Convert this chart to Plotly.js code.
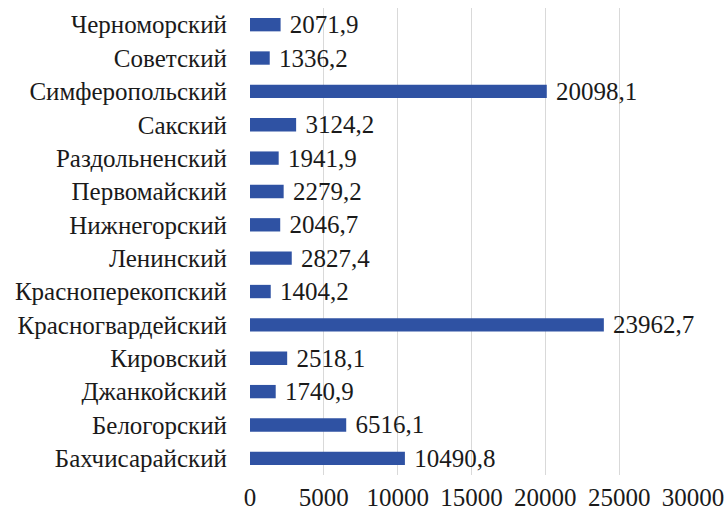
<!DOCTYPE html>
<html>
<head>
<meta charset="utf-8">
<script src="https://cdn.plot.ly/plotly-3.0.1.min.js"></script>
<style>html,body{margin:0;padding:0;background:#fff;}#chart{width:728px;height:512px;}</style>
</head>
<body>
<div id="chart"></div>
<script>
const districts = ["Бахчисарайский","Белогорский","Джанкойский","Кировский","Красногвардейский","Красноперекопский","Ленинский","Нижнегорский","Первомайский","Раздольненский","Сакский","Симферопольский","Советский","Черноморский"];
const values = [10490.8, 6516.1, 1740.9, 2518.1, 23962.7, 1404.2, 2827.4, 2046.7, 2279.2, 1941.9, 3124.2, 20098.1, 1336.2, 2071.9];
const xTicks = [0, 5000, 10000, 15000, 20000, 25000, 30000];

const labels = values.map(v => " " + v.toFixed(1).replace(".", ","));
const FONT = "'Liberation Serif', 'Times New Roman', serif";

const trace = {
  type: "bar",
  orientation: "h",
  y: districts,
  x: values,
  text: labels,
  textposition: "outside",
  constraintext: "none",
  cliponaxis: false,
  textfont: {family: FONT, size: 25, color: "#1a1a1a"},
  marker: {color: "#2f52a3"},
  hoverinfo: "none"
};

const layout = {
  width: 728,
  height: 512,
  margin: {l: 250, r: 35, t: 8, b: 37},
  paper_bgcolor: "#ffffff",
  plot_bgcolor: "#ffffff",
  bargap: 0.6,
  showlegend: false,
  font: {family: FONT, size: 25, color: "#1a1a1a"},
  xaxis: {
    range: [0, 30000],
    tickvals: xTicks,
    ticktext: xTicks.map(String),
    showgrid: true,
    gridcolor: "#d9d9d9",
    gridwidth: 1,
    zeroline: false,
    showline: false,
    ticks: "",
    ticklabelstandoff: 5,
    fixedrange: true
  },
  yaxis: {
    categoryorder: "array",
    categoryarray: districts,
    showgrid: false,
    zeroline: false,
    showline: false,
    ticks: "",
    ticklabelstandoff: 22,
    fixedrange: true
  }
};

Plotly.newPlot("chart", [trace], layout, {displayModeBar: false, staticPlot: true});
</script>
</body>
</html>
